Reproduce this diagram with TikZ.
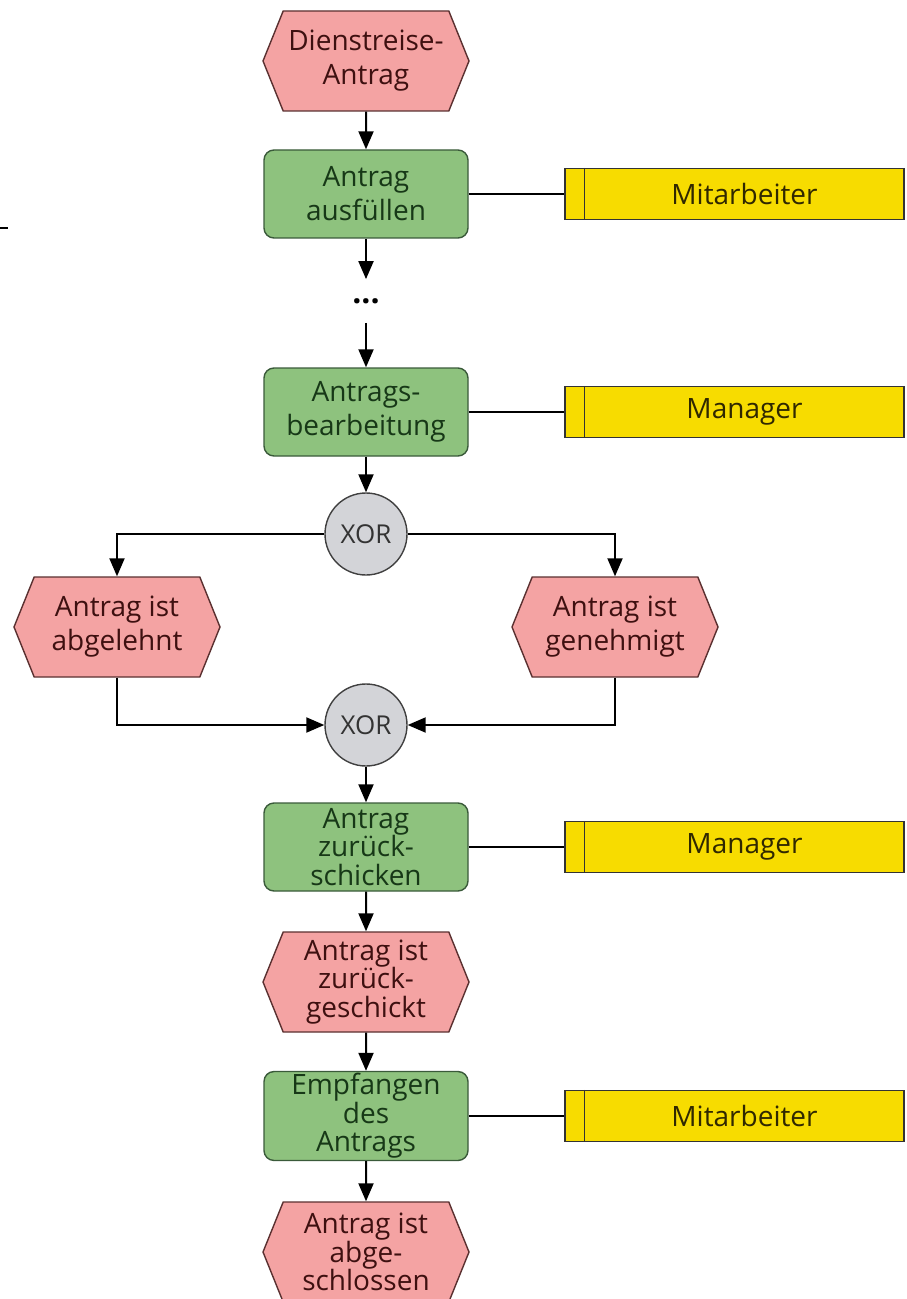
\documentclass[tikz,border=0pt]{standalone}
\usepackage{fontspec}
\setmainfont{Open Sans}
\usepackage{xcolor}
\usepackage{tikz}
\usetikzlibrary{shapes.geometric, shapes.symbols, arrows.meta, positioning}

\definecolor{evfill}{HTML}{F4A3A3}
\definecolor{evdraw}{HTML}{5A3030}
\definecolor{evtext}{HTML}{3E1010}
\definecolor{fnfill}{HTML}{8EC27E}
\definecolor{fndraw}{HTML}{3A5A3A}
\definecolor{fntext}{HTML}{173817}
\definecolor{orgfill}{HTML}{F7DC00}
\definecolor{orgtext}{HTML}{302800}
\definecolor{xorfill}{HTML}{D3D4D8}

\begin{document}
\begin{tikzpicture}[x=0.5pt, y=-0.5pt,
  event/.style={signal, signal to=west and east, signal pointer angle=136,
    draw=evdraw, fill=evfill, line width=0.7pt, text=evtext, align=center,
    minimum width=103pt, minimum height=50pt, inner sep=1pt,
    font=\fontsize{14}{17}\selectfont},
  func/.style={rectangle, rounded corners=5pt, draw=fndraw, fill=fnfill,
    line width=0.7pt, text=fntext, align=center, minimum width=102pt,
    minimum height=44pt, inner sep=1pt, font=\fontsize{14}{17}\selectfont},
  tight/.style={font=\fontsize{14}{14.2}\selectfont},
  orgunit/.style={rectangle, draw=black!80, fill=orgfill, line width=0.7pt,
    text=orgtext, minimum width=169.5pt, minimum height=25.5pt,
    font=\fontsize{14}{17}\selectfont},
  xorgate/.style={circle, draw=black!75, fill=xorfill, line width=0.7pt,
    minimum size=41pt, inner sep=0pt, text=black!80,
    font=\fontsize{13}{15}\selectfont},
  arr/.style={-{Triangle[length=9pt, width=7.5pt]}, line width=1pt},
  link/.style={line width=0.8pt}]
  \useasboundingbox (0,0) rectangle (906,1299);

  % stray mark at the left edge
  \draw[line width=1pt] (0,228) -- (8,228);

  % events and functions
  \node[event] (E1) at (366,61) {Dienstreise-\\Antrag};
  \node[func] (F1) at (366,194) {Antrag\\ausfüllen};
  \node[inner sep=0pt, minimum height=21.5pt, font=\fontsize{16}{16}\bfseries] (dots) at (366,301) {...};
  \node[func] (F2) at (366,412) {Antrags-\\bearbeitung};
  \node[xorgate] (X1) at (366,534) {XOR};
  \node[event] (Ea) at (117,627) {Antrag ist\\abgelehnt};
  \node[event] (Eg) at (615,627) {Antrag ist\\genehmigt};
  \node[xorgate] (X2) at (366,725) {XOR};
  \node[func, tight] (F3) at (366,847) {Antrag\\zurück-\\schicken};
  \node[event, tight] (E3) at (366,982) {Antrag ist\\zurück-\\geschickt};
  \node[func, tight] (F4) at (366,1116) {Empfangen\\des\\Antrags};
  \node[event, tight] (E4) at (366,1252) {Antrag ist\\abge-\\schlossen};

  % organisational units
  \node[orgunit] (O1) at (734.5,194) {\hspace*{10pt}Mitarbeiter};
  \node[orgunit] (O2) at (734.5,412) {\hspace*{10pt}Manager};
  \node[orgunit] (O3) at (734.5,847) {\hspace*{10pt}Manager};
  \node[orgunit] (O4) at (734.5,1116) {\hspace*{10pt}Mitarbeiter};
  \foreach \o in {O1,O2,O3,O4}
    \draw[line width=0.7pt, black!80] ([xshift=10pt]\o.north west) -- ([xshift=10pt]\o.south west);

  % control flow
  \draw[arr] (E1) -- (F1);
  \draw[arr] (F1) -- (dots);
  \draw[arr] (dots) -- (F2);
  \draw[arr] (F2) -- (X1);
  \draw[arr] (X1.west) -| (Ea.north);
  \draw[arr] (X1.east) -| (Eg.north);
  \draw[arr] (Ea.south) |- (X2.west);
  \draw[arr] (Eg.south) |- (X2.east);
  \draw[arr] (X2) -- (F3);
  \draw[arr] (F3) -- (E3);
  \draw[arr] (E3) -- (F4);
  \draw[arr] (F4) -- (E4);

  % assignments
  \draw[link] (F1.east) -- (O1.west);
  \draw[link] (F2.east) -- (O2.west);
  \draw[link] (F3.east) -- (O3.west);
  \draw[link] (F4.east) -- (O4.west);
\end{tikzpicture}
\end{document}
